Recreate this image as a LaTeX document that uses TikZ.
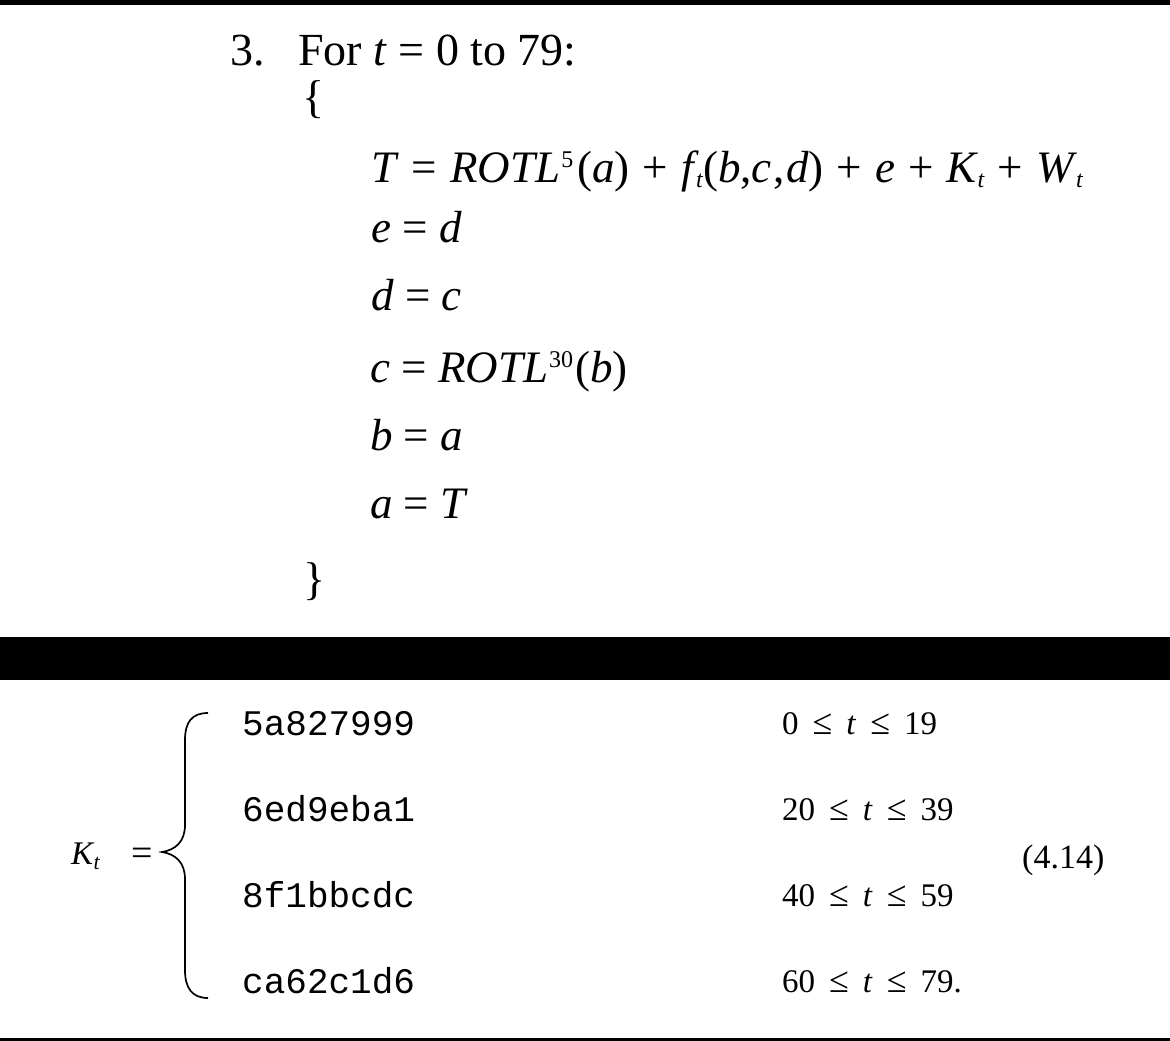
\documentclass[tikz,border=0pt]{standalone}
\usepackage{fontspec}
\setmainfont{Liberation Serif}
\setmonofont{Liberation Mono}
\newcommand\iv[1]{\textit{#1}}
\newcommand\sbt{\raisebox{-5pt}{\fontsize{24}{24}\selectfont\textit{t}}}
\newcommand\sbk{\raisebox{-5pt}{\fontsize{22}{22}\selectfont\textit{t}}}
\newcommand\spx[1]{\raisebox{15pt}{\fontsize{24}{24}\selectfont #1}}
\newcommand\sq{\hspace{0.29em}}
\newcommand\gp{\hspace{14pt}}
\newcommand\leqg{{\fontsize{36}{36}\selectfont ≤}}
\begin{document}
\begin{tikzpicture}[x=1pt,y=-1pt,
  txt/.style={anchor=base west, inner sep=0pt, font=\fontsize{46}{50}\selectfont},
  eqn/.style={anchor=base west, inner sep=0pt, font=\fontsize{45}{50}\selectfont},
  hex/.style={anchor=base west, inner sep=0pt, font=\fontsize{36}{40}\ttfamily},
  rng/.style={anchor=base west, inner sep=0pt, font=\fontsize{33}{36}\selectfont},
  bar/.style={fill=black}]
\useasboundingbox (0,0) rectangle (1170,1041);
\fill[bar] (0,0) rectangle (1170,5);
\fill[bar] (0,637) rectangle (1170,680);
\fill[bar] (0,1038) rectangle (1170,1041);
% upper part
\node[txt] (num) at (230,66) {3.};
\node[txt] (for) at (298,66) {For \iv{t} = 0 to 79:};
\node[txt] (open) at (302,112) {\{};
\node[eqn] (l1) at (371,182) {\iv{T}\sq=\sq\iv{ROTL}\kern1pt\spx{5}\kern4pt(\iv{a})\sq+\sq\iv{f}\kern-3pt\sbt(\iv{b},\iv{c}\kern2pt,\kern1pt\iv{d})\sq+\sq\iv{e}\sq+\sq\iv{K}\kern-1pt\sbt\sq+\sq\iv{W}\kern-1pt\sbt};
\node[eqn] (l2) at (371,242) {\iv{e} = \iv{d}};
\node[eqn] (l3) at (371,310) {\iv{d} = \iv{c}};
\node[eqn] (l4) at (370,382) {\iv{c} = \iv{ROTL}\kern1pt\spx{30}\kern2pt(\iv{b})};
\node[eqn] (l5) at (370,450) {\iv{b} = \iv{a}};
\node[eqn] (l6) at (370,518) {\iv{a} = \iv{T}};
\node[txt] (close) at (303,594) {\}};
% lower part
\node[rng, font=\fontsize{33}{36}\selectfont] (k) at (71,864) {\iv{K}\kern-1pt\sbk};
\node[rng, font=\fontsize{38}{40}\selectfont] (eq) at (131,865) {=};
\coordinate (bt) at (208,713);
\coordinate (bb) at (208,998);
\coordinate (tip) at (162,852);
\draw[line width=1.7pt] (bt) .. controls (192,713) and (185,722) .. (185,740)
  -- (185,825) .. controls (185,842) and (175,850) .. (tip)
  .. controls (175,854) and (185,862) .. (185,879)
  -- (185,970) .. controls (185,988) and (192,998) .. (bb);
\node[hex] (h1) at (242,735) {5a827999};
\node[hex] (h2) at (242,821) {6ed9eba1};
\node[hex] (h3) at (242,907) {8f1bbcdc};
\node[hex] (h4) at (242,993) {ca62c1d6};
\node[rng] (r1) at (782,734) {0\gp\leqg\gp\iv{t}\gp\leqg\gp19};
\node[rng] (r2) at (782,820) {20\gp\leqg\gp\iv{t}\gp\leqg\gp39};
\node[rng] (r3) at (782,906) {40\gp\leqg\gp\iv{t}\gp\leqg\gp59};
\node[rng] (r4) at (782,992) {60\gp\leqg\gp\iv{t}\gp\leqg\gp79.};
\node[rng, font=\fontsize{34}{36}\selectfont] (tag) at (1022,868) {(4.14)};
\end{tikzpicture}
\end{document}
